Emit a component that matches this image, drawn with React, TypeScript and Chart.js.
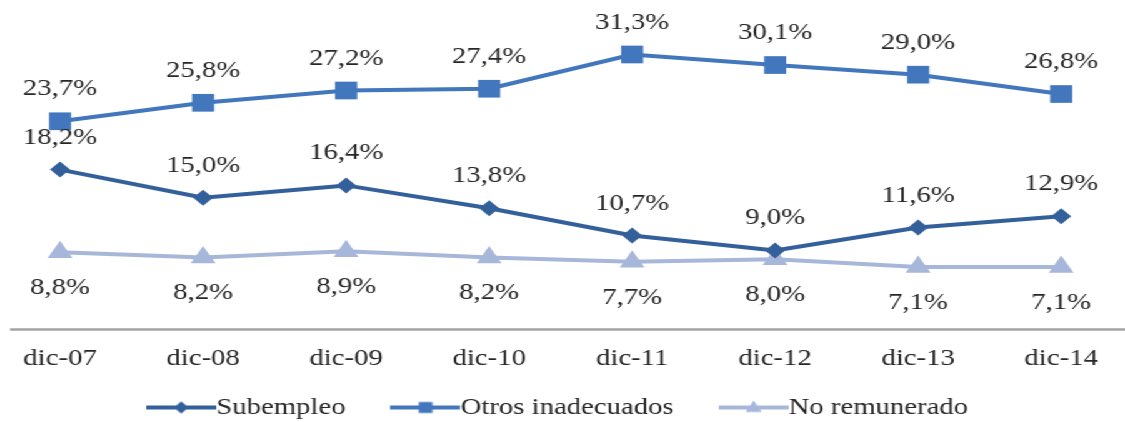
import { useEffect, useRef } from 'react';
import { Chart, registerables } from 'chart.js';

Chart.register(...registerables);

const categories = ['dic-07', 'dic-08', 'dic-09', 'dic-10', 'dic-11', 'dic-12', 'dic-13', 'dic-14'];
const subempleo = [18.2, 15.0, 16.4, 13.8, 10.7, 9.0, 11.6, 12.9];
const otrosInadecuados = [23.7, 25.8, 27.2, 27.4, 31.3, 30.1, 29.0, 26.8];
const noRemunerado = [8.8, 8.2, 8.9, 8.2, 7.7, 8.0, 7.1, 7.1];
const seriesNames = ['Subempleo', 'Otros inadecuados', 'No remunerado'];

const FONT = "'Liberation Serif', 'Times New Roman', serif";
const TEXT = '#262626';
const COLORS = ['#33609a', '#4276bd', '#a7b7da'];
const STYLES = ['rectRot', 'rect', 'triangle'];
const RADII = [8, 12.5, 11.5];
const LABEL_OFFSETS = [-32, -32, 36];

function legendSymbol(color: string, style: string) {
  const c = document.createElement('canvas');
  c.width = 56;
  c.height = 20;
  const ctx = c.getContext('2d') as CanvasRenderingContext2D;
  ctx.strokeStyle = color;
  ctx.fillStyle = color;
  ctx.lineWidth = 4;
  ctx.beginPath();
  ctx.moveTo(0, 10);
  ctx.lineTo(56, 10);
  ctx.stroke();
  ctx.beginPath();
  if (style === 'rectRot') {
    ctx.moveTo(28, 4);
    ctx.lineTo(34, 10);
    ctx.lineTo(28, 16);
    ctx.lineTo(22, 10);
    ctx.closePath();
  } else if (style === 'rect') {
    ctx.rect(22.5, 4.5, 11, 11);
  } else {
    ctx.moveTo(28, 3);
    ctx.lineTo(34.5, 14.5);
    ctx.lineTo(21.5, 14.5);
    ctx.closePath();
  }
  ctx.fill();
  return c;
}

const axisLine = {
  id: 'axisLine',
  beforeDatasetsDraw(chart: any) {
    const { ctx, chartArea } = chart;
    ctx.save();
    ctx.strokeStyle = '#a3a3a3';
    ctx.lineWidth = 2.5;
    ctx.beginPath();
    ctx.moveTo(8, chartArea.bottom);
    ctx.lineTo(chart.width, chartArea.bottom);
    ctx.stroke();
    ctx.restore();
  },
};

const legendPlacement = {
  id: 'legendPlacement',
  afterLayout(chart: any) {
    const lg = chart.legend;
    if (!lg) return;
    lg.top = 348.5;
    lg.bottom = chart.height;
    lg.left += 3;
    lg.right += 3;
  },
};

const dataLabels = {
  id: 'dataLabels',
  afterDatasetsDraw(chart: any) {
    const ctx = chart.ctx;
    ctx.save();
    ctx.font = `23px ${FONT}`;
    ctx.fillStyle = TEXT;
    ctx.textAlign = 'center';
    ctx.textBaseline = 'middle';
    chart.data.datasets.forEach((ds: any, i: number) => {
      const meta = chart.getDatasetMeta(i);
      meta.data.forEach((pt: any, j: number) => {
        const v = ds.data[j] as number;
        ctx.fillText(v.toFixed(1).replace('.', ',') + '%', pt.x, pt.y + LABEL_OFFSETS[i]);
      });
    });
    ctx.restore();
  },
};

export default function App() {
  const ref = useRef<HTMLCanvasElement | null>(null);

  useEffect(() => {
    if (!ref.current) return;
    const values = [subempleo, otrosInadecuados, noRemunerado];
    const symbols = COLORS.map((c, i) => legendSymbol(c, STYLES[i]));
    const chart = new Chart(ref.current, {
      type: 'line',
      data: {
        labels: categories,
        datasets: values.map((d, i) => ({
          label: seriesNames[i],
          data: d,
          borderColor: COLORS[i],
          backgroundColor: COLORS[i],
          borderWidth: 4,
          pointStyle: STYLES[i] as any,
          pointRadius: RADII[i],
          pointBackgroundColor: COLORS[i],
          pointBorderColor: COLORS[i],
          pointBorderWidth: 0,
          tension: 0,
          clip: false as any,
        })),
      },
      options: {
        animation: false,
        responsive: true,
        maintainAspectRatio: false,
        layout: { autoPadding: false, padding: { left: 48, right: 51, top: 0, bottom: 0 } },
        scales: {
          x: {
            type: 'category',
            offset: false,
            grid: { display: false, drawTicks: false },
            border: { display: false },
            ticks: {
              font: { family: FONT, size: 23 },
              color: TEXT,
              padding: 16,
              maxRotation: 0,
              autoSkip: false,
            },
            afterFit: (s: any) => {
              s.height = 44;
            },
          },
          y: { display: false, min: 0, max: 37.5 },
        },
        plugins: {
          tooltip: { enabled: false },
          legend: {
            position: 'bottom',
            maxHeight: 48.5,
            labels: {
              usePointStyle: true,
              pointStyleWidth: 33,
              padding: 47.5,
              color: TEXT,
              font: { family: FONT, size: 23 },
              generateLabels: (ch: any) => {
                const items = Chart.defaults.plugins.legend.labels.generateLabels(ch);
                return items.map((it: any, i: number) => ({ ...it, pointStyle: symbols[i] }));
              },
            },
          },
        },
      },
      plugins: [axisLine, legendPlacement, dataLabels],
    });
    return () => chart.destroy();
  }, []);

  return (
    <div
      style={{
        position: 'fixed',
        left: 0,
        top: 0,
        width: 900,
        height: 422,
        transform: 'scaleX(1.25)',
        transformOrigin: '0 0',
        background: '#fff',
      }}
    >
      <canvas ref={ref} />
    </div>
  );
}
